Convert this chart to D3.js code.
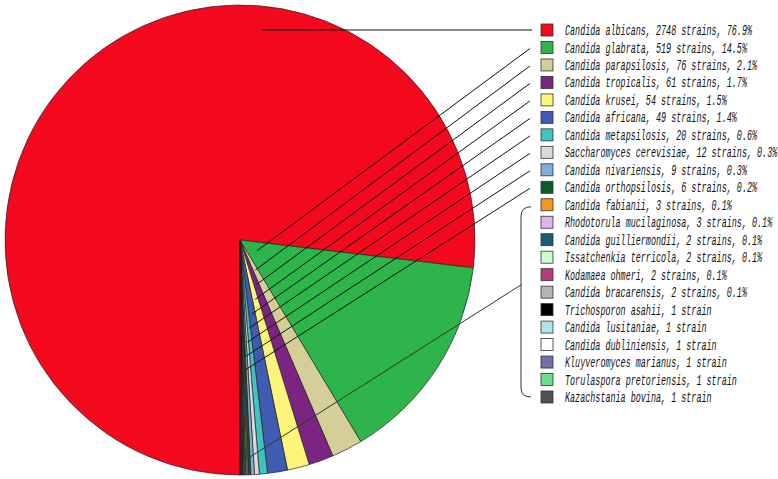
<!DOCTYPE html>
<html>
<head>
<meta charset="utf-8">
<script src="https://cdn.jsdelivr.net/npm/d3@7"></script>
<style>
  body { margin: 0; background: #fff; }
  .legend text { font-family: "Liberation Mono", monospace; font-style: italic; font-size: 14px; fill: #111; }
</style>
</head>
<body>
<svg id="chart" width="778" height="479"></svg>
<script>
const species = [
  'Candida albicans', 'Candida glabrata', 'Candida parapsilosis', 'Candida tropicalis',
  'Candida krusei', 'Candida africana', 'Candida metapsilosis', 'Saccharomyces cerevisiae',
  'Candida nivariensis', 'Candida orthopsilosis', 'Candida fabianii', 'Rhodotorula mucilaginosa',
  'Candida guilliermondii', 'Issatchenkia terricola', 'Kodamaea ohmeri', 'Candida bracarensis',
  'Trichosporon asahii', 'Candida lusitaniae', 'Candida dubliniensis', 'Kluyveromyces marianus',
  'Torulaspora pretoriensis', 'Kazachstania bovina'
]
const strains = [2748, 519, 76, 61, 54, 49, 20, 12, 9, 6, 3, 3, 2, 2, 2, 2, 1, 1, 1, 1, 1, 1]
const percents = ['76.9%', '14.5%', '2.1%', '1.7%', '1.5%', '1.4%', '0.6%', '0.3%', '0.3%', '0.2%',
  '0.1%', '0.1%', '0.1%', '0.1%', '0.1%', '0.1%', null, null, null, null, null, null]
const colors = [
  '#f3081e', '#2db44a', '#d4cf98', '#7b2481', '#fdf57a', '#3f5cb0', '#3dc3c2', '#d9d9d9',
  '#80aedb', '#0e5a2b', '#f7961d', '#dcb7ee', '#1b5c72', '#ccfdcc', '#b83a7b', '#b4b4b4',
  '#000000', '#afe6e8', '#ffffff', '#7171a8', '#6edc8c', '#505050'
]

const cx = 240
const cy = 240
const radius = 235

const data = species.map((name, i) => ({ name, value: strains[i], pct: percents[i], color: colors[i], idx: i }))

const svg = d3.select('#chart')

// Pie: clockwise from the bottom, so the tiny slices end just right of straight down
const pie = d3.pie()
    .sort(null)
    .value(d => d.value)
    .startAngle(-Math.PI)
    .endAngle(Math.PI)
const arcs = pie(data)

const arc = d3.arc().innerRadius(0).outerRadius(radius)

const pieGroup = svg.append('g')
    .attr('transform', `translate(${cx},${cy})`)

pieGroup.selectAll('path')
  .data(arcs)
  .join('path')
    .attr('d', arc)
    .attr('fill', d => d.data.color)
    .attr('stroke', '#222')
    .attr('stroke-width', 0.7)
    .attr('stroke-linejoin', 'round')

// Legend rows
const rowY = d3.scalePoint()
    .domain(species)
    .range([30, 397])

const legend = svg.append('g').attr('class', 'legend')

const rows = legend.selectAll('g.row')
  .data(data)
  .join('g')
    .attr('class', 'row')
    .attr('transform', d => `translate(0,${rowY(d.name)})`)

rows.append('rect')
    .attr('x', 541)
    .attr('y', -6)
    .attr('width', 12)
    .attr('height', 12)
    .attr('fill', d => d.color)
    .attr('stroke', '#333')
    .attr('stroke-width', 0.8)

rows.append('text')
    .attr('transform', 'translate(565,0) scale(0.602,1)')
    .attr('dy', '0.36em')
    .text(d => d.pct
      ? `${d.name}, ${d.value} strains, ${d.pct}`
      : `${d.name}, ${d.value} strain`)

// Leader lines
const leaders = svg.append('g')
    .attr('fill', 'none')
    .attr('stroke', '#111')
    .attr('stroke-width', 1)

// point on the middle ray of a slice, at distance r from the centre
function onRay (a, r) {
  const ang = (a.startAngle + a.endAngle) / 2
  return [cx + r * Math.sin(ang), cy - r * Math.cos(ang)]
}

// albicans: horizontal line into the top of the red slice
const y0 = rowY(species[0])
leaders.append('line')
    .attr('x1', 532).attr('y1', y0)
    .attr('x2', cx + 22).attr('y2', y0)

// next nine species: lines from the legend into each slice
const rayDist = d3.scaleLinear().domain([1, 9]).range([20, 130])
arcs.slice(1, 10).forEach(a => {
  const [px, py] = onRay(a, rayDist(a.data.idx))
  leaders.append('line')
      .attr('x1', 530).attr('y1', rowY(a.data.name) + 1)
      .attr('x2', px).attr('y2', py)
})

// bracket for the remaining twelve
const brTop = rowY(species[10]) + 2
const brBot = rowY(species[21])
const bx = 521
const brMid = (brTop + brBot) / 2 - 17
leaders.append('path')
    .attr('stroke', '#333')
    .attr('d', `M531,${brTop} Q${bx},${brTop} ${bx},${brTop + 10} L${bx},${brBot - 9} Q${bx},${brBot} ${bx + 10},${brBot}`)

const groupStart = arcs[10].startAngle
const gr = radius * 0.93
leaders.append('line')
    .attr('stroke', '#333')
    .attr('x1', bx).attr('y1', brMid)
    .attr('x2', cx + gr * Math.sin(groupStart)).attr('y2', cy - gr * Math.cos(groupStart))
</script>
</body>
</html>
